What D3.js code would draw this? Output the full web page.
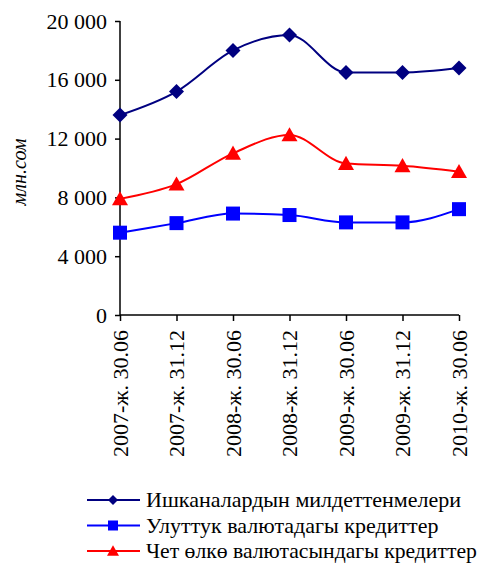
<!DOCTYPE html>
<html><head><meta charset="utf-8">
<script src="https://cdn.jsdelivr.net/npm/d3@7"></script>
</head><body>
<svg id="c" width="478" height="563"></svg>
<script>
const categories = ["2007-ж. 30.06","2007-ж. 31.12","2008-ж. 30.06","2008-ж. 31.12","2009-ж. 30.06","2009-ж. 31.12","2010-ж. 30.06"];
const seriesNames = ["Ишканалардын милдеттенмелери","Улуттук валютадагы кредиттер","Чет өлкө валютасындагы кредиттер"];
const liabilities = [13600,15200,18000,19050,16500,16500,16800];
const nationalCurrency = [5600,6250,6900,6800,6300,6300,7200];
const foreignCurrency = [7900,8900,11000,12250,10300,10150,9750];
const yTicks = [0,4000,8000,12000,16000,20000];
const yTitle = "млн.сом";

const colors = ["#000080","#0000ff","#ff0000"];
const data = [liabilities, nationalCurrency, foreignCurrency];
const FONT = '"Liberation Serif", "Times New Roman", serif';

d3.select("body").style("margin","0");
const svg = d3.select("#c").style("display","block").style("font-family",FONT,"important");
const x = d3.scalePoint().domain(categories).range([120, 459]);
const y = d3.scaleLinear().domain([0,20000]).range([315, 21]);

const fmt = v => d3.format(",")(v).replace(/,/g, "\u00a0");

function marker(g, k, s, cx, cy) {
  if (k === 0) {
    const a = s/Math.SQRT2;
    g.append("rect").attr("x",-a/2).attr("y",-a/2).attr("width",a).attr("height",a)
      .attr("transform",`translate(${cx},${cy}) rotate(45)`).attr("fill",colors[k]);
  } else if (k === 1) {
    g.append("rect").attr("x",cx-s/2).attr("y",cy-s/2).attr("width",s).attr("height",s).attr("fill",colors[k]);
  } else {
    const w = s, h = s*0.88;
    g.append("path").attr("d",`M${cx},${cy-h*0.55}L${cx+w/2},${cy+h*0.45}L${cx-w/2},${cy+h*0.45}Z`).attr("fill",colors[k]);
  }
}

function txt(sel, size) {
  sel.attr("font-family","Liberation Serif")
     .style("font-family",FONT,"important")
     .style("font-size",size+"px").attr("fill","#000");
}

const ya = svg.append("g").attr("transform","translate(120,0)")
  .call(d3.axisLeft(y).tickValues(yTicks).tickSize(5).tickPadding(8).tickFormat(fmt));
ya.attr("font-family",null).attr("font-size",null);
txt(ya.selectAll("text"), 22);
ya.selectAll("line,path").attr("stroke","#000").attr("stroke-width",1.5);
ya.select(".domain").attr("d","M0,21V315");

const xa = svg.append("g").attr("transform","translate(0,315)")
  .call(d3.axisBottom(x).tickSize(6).tickSizeOuter(0));
xa.attr("font-family",null).attr("font-size",null);
xa.selectAll("line,path").attr("stroke","#000").attr("stroke-width",1.5);
xa.select(".domain").attr("d","M120,0H459");
txt(xa.selectAll("text"), 22);
xa.selectAll("text").attr("transform","rotate(-90)").attr("text-anchor","end").attr("dy","0.32em")
  .attr("x",-15).attr("y",0);

const yt = svg.append("text").attr("transform","translate(19,172) rotate(-90)")
  .attr("text-anchor","middle").attr("dy","0.35em").text(yTitle);
txt(yt, 20);
yt.style("font-style","italic");

const line = d3.line().x((d,i)=>x(categories[i])).y(d=>y(d)).curve(d3.curveMonotoneX);
const sz = [15,14,16];
data.forEach((s,k)=>{
  svg.append("path").attr("d",line(s)).attr("fill","none").attr("stroke",colors[k]).attr("stroke-width",2);
  const g = svg.append("g");
  s.forEach((d,i)=>marker(g,k,sz[k],x(categories[i]),y(d)));
});

const lg = svg.append("g");
const lsz = [10,10,12];
seriesNames.forEach((n,k)=>{
  const cy = 500 + k*25.5;
  lg.append("line").attr("x1",87).attr("x2",140).attr("y1",cy).attr("y2",cy).attr("stroke",colors[k]).attr("stroke-width",2);
  marker(lg,k,lsz[k],113,cy);
  const t = lg.append("text").attr("x",146).attr("y",cy).attr("dy","0.32em").text(n);
  txt(t, 22);
  const maxW = 478 - 146 - 1;
  const w = t.node().getComputedTextLength();
  if (w > maxW) t.style("font-size", (22*maxW/w).toFixed(2)+"px");
});
</script>
</body></html>
